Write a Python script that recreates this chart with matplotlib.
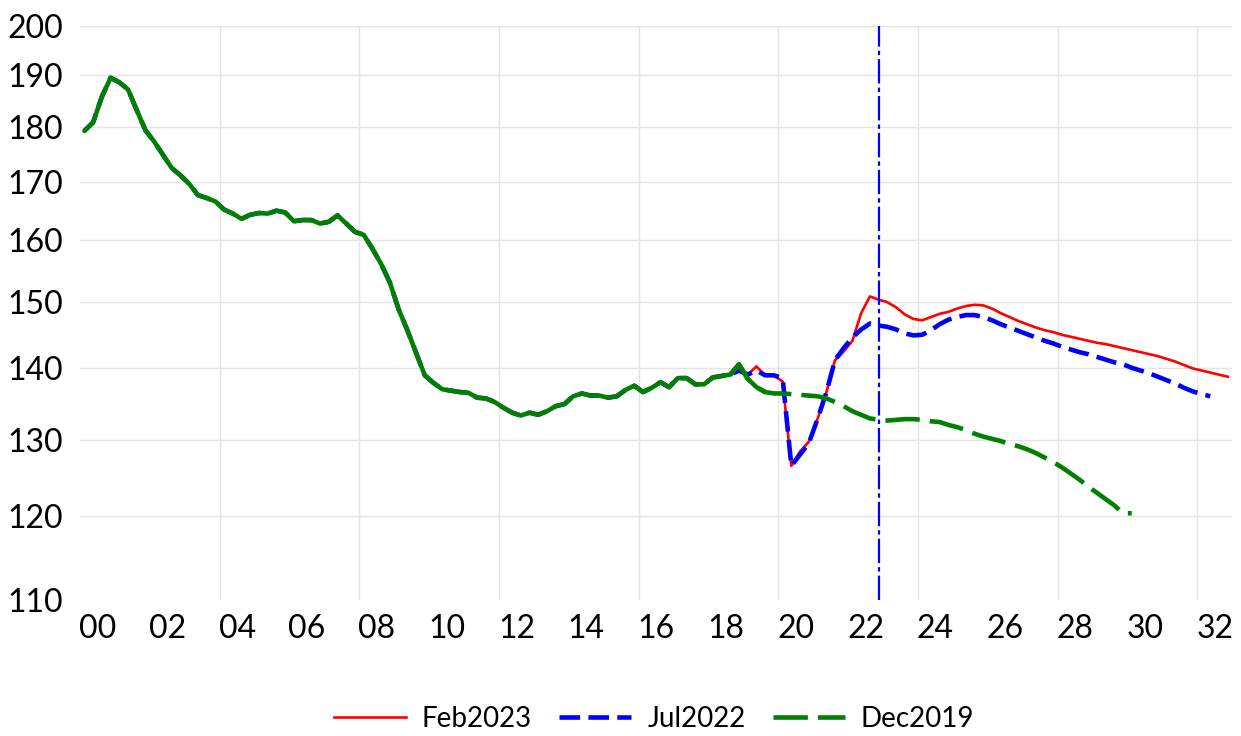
import matplotlib
matplotlib.use('Agg')
import matplotlib.pyplot as plt
import numpy as np
from matplotlib.ticker import FixedLocator, FixedFormatter, NullLocator

plt.rcParams['font.family'] = ['Lato', 'DejaVu Sans']

# quarterly index, 2000Q1 onwards
start_year = 2000

# common history 2000Q1 - 2018Q3
history = [179.3, 180.9, 185.8, 189.5, 188.6, 187.2, 183.2, 179.4,
           177.3, 174.9, 172.5, 171.2, 169.7, 167.7, 167.2, 166.6,
           165.2, 164.5, 163.6, 164.3, 164.6, 164.5, 165.0, 164.7,
           163.2, 163.4, 163.4, 162.8, 163.1, 164.2, 162.8, 161.4,
           160.9, 158.6, 156.1, 153.1, 148.9, 145.7, 142.3, 139.0,
           137.9, 137.0, 136.8, 136.6, 136.5, 135.8, 135.7, 135.2,
           134.4, 133.7, 133.3, 133.7, 133.4, 133.9, 134.6, 134.9,
           136.0, 136.4, 136.1, 136.1, 135.8, 136.0, 136.9, 137.5,
           136.6, 137.2, 138.0, 137.3, 138.6, 138.6, 137.7, 137.7,
           138.7, 138.9, 139.1]

# from 2018Q4
feb2023 = [139.7, 139.1, 140.3, 139.0, 139.0, 138.1, 126.5, 128.4,
           129.7, 132.8, 136.5, 141.2, 142.5, 144.1, 148.3, 150.9,
           150.4, 150.0, 149.2, 148.1, 147.4, 147.2, 147.7, 148.2,
           148.5, 149.0, 149.4, 149.6, 149.5, 149.0, 148.3, 147.7,
           147.1, 146.6, 146.1, 145.7, 145.4, 145.0, 144.7, 144.4,
           144.1, 143.8, 143.6, 143.3, 143.0, 142.7, 142.4, 142.1,
           141.8, 141.4, 141.0, 140.5, 140.0, 139.7, 139.4, 139.1,
           138.8]

jul2022 = [139.7, 139.1, 139.7, 139.0, 139.0, 138.6, 126.5, 128.0,
           129.5, 132.8, 136.5, 141.2, 143.0, 144.6, 145.8, 146.7,
           146.4, 146.2, 145.8, 145.2, 144.9, 145.0, 145.7, 146.6,
           147.3, 147.7, 148.0, 148.0, 147.7, 147.2, 146.6, 146.1,
           145.6, 145.1, 144.6, 144.1, 143.7, 143.2, 142.8, 142.4,
           142.1, 141.7, 141.3, 140.9, 140.6, 140.1, 139.7, 139.3,
           138.8, 138.3, 137.8, 137.2, 136.7, 136.3, 136.0]

dec2019 = [140.6, 138.5, 137.3, 136.6, 136.4, 136.4, 136.3, 136.2,
           136.1, 136.0, 135.7, 135.2, 134.6, 133.9, 133.4, 132.9,
           132.7, 132.6, 132.7, 132.8, 132.8, 132.7, 132.5, 132.4,
           132.0, 131.7, 131.3, 130.8, 130.4, 130.1, 129.8, 129.4,
           129.1, 128.7, 128.2, 127.6, 127.0, 126.3, 125.5, 124.7,
           123.8, 123.0, 122.2, 121.4, 120.4, 120.4]

dec2019_solid_until = 4   # green drawn solid for the first quarters after history
cutoff = (2022, 4)        # vertical marker quarter

year_labels = ['%02d' % (y % 100) for y in range(2000, 2033, 2)]


def qx(n):
    # centre of the n-th quarter, in years
    return start_year + (np.arange(n) + 0.5) / 4


red = np.array(history + feb2023)
blue = np.array(history + jul2022)
green = np.array(history + dec2019)
nh = len(history)

fig = plt.figure(figsize=(12.41, 7.36), dpi=100)
ax = fig.add_axes([0.0645, 0.1848, 0.9283, 0.7799])

ax.plot(qx(len(red)), red, color='#ff0000', lw=1.9, zorder=2, label='Feb2023')
ax.plot(qx(len(blue)), blue, color='#0000ff', lw=3.3, zorder=3,
        dashes=(4.5, 1.8), label='Jul2022')
gx = qx(len(green))
ax.plot(gx[nh - 1:], green[nh - 1:], color='#008000', lw=3.3, zorder=4,
        dashes=(7.5, 2.2), label='Dec2019')
k = nh + dec2019_solid_until
ax.plot(gx[:k], green[:k], color='#008000', lw=3.3, zorder=4,
        solid_capstyle='round', solid_joinstyle='round')

cut_x = cutoff[0] + (cutoff[1] - 0.5) / 4
ax.axvline(cut_x, color='#0000ff', lw=1.6, dashes=(11, 1.8, 2, 1.8), zorder=5)

ax.set_xlim(2000, 2033)
ax.set_yscale('log')
ax.set_ylim(110, 200)

yt = list(range(110, 201, 10))
ax.yaxis.set_major_locator(FixedLocator(yt))
ax.yaxis.set_major_formatter(FixedFormatter([str(v) for v in yt]))
ax.yaxis.set_minor_locator(NullLocator())

ax.xaxis.set_major_locator(FixedLocator([y + 0.5 for y in range(2000, 2033, 2)]))
ax.xaxis.set_major_formatter(FixedFormatter(year_labels))
ax.xaxis.set_minor_locator(FixedLocator(list(range(2004, 2033, 4))))

ax.grid(axis='y', which='major', color='#e4e4e4', lw=1.0, zorder=0)
ax.grid(axis='x', which='minor', color='#e4e4e4', lw=1.0, zorder=0)
ax.get_ygridlines()[0].set_visible(False)

ax.tick_params(axis='both', which='both', length=0, labelsize=23)
ax.tick_params(axis='y', pad=12)
ax.tick_params(axis='x', pad=10)

for s in ax.spines.values():
    s.set_visible(False)

fig.legend(loc='center', bbox_to_anchor=(654 / 1241, 17 / 736), ncol=3,
           frameon=False, fontsize=20, handlelength=2.6, handletextpad=0.58,
           columnspacing=0.97, borderaxespad=0, borderpad=0)

fig.savefig('out.png', dpi=100)
